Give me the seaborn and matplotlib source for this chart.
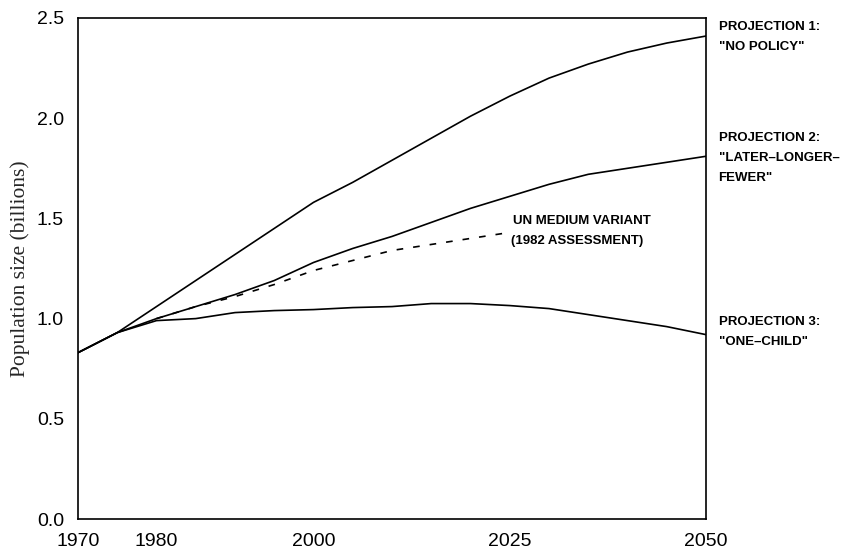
import matplotlib
matplotlib.use("Agg")
import matplotlib.pyplot as plt
import seaborn as sns
import pandas as pd

years = [1970, 1975, 1980, 1985, 1990, 1995, 2000, 2005, 2010, 2015, 2020,
         2025, 2030, 2035, 2040, 2045, 2050]
proj1_no_policy = [0.83, 0.93, 1.06, 1.19, 1.32, 1.45, 1.58, 1.68, 1.79, 1.90,
                   2.01, 2.11, 2.20, 2.27, 2.33, 2.375, 2.41]
proj2_later_longer_fewer = [0.83, 0.93, 1.00, 1.06, 1.12, 1.19, 1.28, 1.35, 1.41,
                            1.48, 1.55, 1.61, 1.67, 1.72, 1.75, 1.78, 1.81]
proj3_one_child = [0.83, 0.93, 0.99, 1.00, 1.03, 1.04, 1.045, 1.055, 1.06, 1.075,
                   1.075, 1.065, 1.05, 1.02, 0.99, 0.96, 0.92]
un_years = [1980, 1985, 1990, 1995, 2000, 2005, 2010, 2015, 2020, 2025]
un_medium = [1.00, 1.06, 1.11, 1.17, 1.24, 1.29, 1.34, 1.37, 1.40, 1.43]

x_ticks = [1970, 1980, 2000, 2025, 2050]
y_ticks = [0.0, 0.5, 1.0, 1.5, 2.0, 2.5]

sns.set_style("white")
plt.rcParams["font.family"] = ["Liberation Sans", "DejaVu Sans"]

df = pd.DataFrame({
    "year": years * 3,
    "pop": proj1_no_policy + proj2_later_longer_fewer + proj3_one_child,
    "series": ["p1"] * len(years) + ["p2"] * len(years) + ["p3"] * len(years),
})
df_un = pd.DataFrame({"year": un_years, "pop": un_medium})

fig = plt.figure(figsize=(8.45, 5.5), dpi=100)
ax = fig.add_axes([78 / 845, 1 - 519 / 550, (706 - 78) / 845, (519 - 18) / 550])

sns.lineplot(data=df, x="year", y="pop", units="series", estimator=None,
             color="black", linewidth=1.2, ax=ax)
sns.lineplot(data=df_un, x="year", y="pop", color="black", linewidth=1.2,
             dashes=False, ax=ax, linestyle=(0, (4, 6)))

ax.set_xlim(1970, 2050)
ax.set_ylim(0, 2.5)
ax.set_xticks(x_ticks)
ax.set_xticklabels([str(v) for v in x_ticks])
ax.set_yticks(y_ticks)
ax.set_yticklabels([f"{v:.1f}" for v in y_ticks])
ax.tick_params(axis="x", direction="in", length=11, width=1.1, pad=10,
               labelsize=14, colors="black")
ax.tick_params(axis="y", direction="in", length=8, width=1.1, pad=10,
               labelsize=14, colors="black")
for s in ax.spines.values():
    s.set_visible(True)
    s.set_color("black")
    s.set_linewidth(1.2)
ax.set_xlabel("")
ax.set_ylabel("Population size (billions)", family=["Liberation Serif"],
              fontsize=15.5, labelpad=5)

tkw = dict(fontsize=9.5, fontweight="bold", va="center", ha="left",
           clip_on=False, color="black")
ax.text(2051.6, 2.455, "PROJECTION 1:", **tkw)
ax.text(2051.6, 2.355, '"NO POLICY"', **tkw)
ax.text(2051.6, 1.90, "PROJECTION 2:", **tkw)
ax.text(2051.6, 1.80, '"LATER\u2013LONGER\u2013', **tkw)
ax.text(2051.6, 1.70, 'FEWER"', **tkw)
ax.text(2051.6, 0.983, "PROJECTION 3:", **tkw)
ax.text(2051.6, 0.883, '"ONE\u2013CHILD"', **tkw)
ax.text(2025.4, 1.487, "UN MEDIUM VARIANT", **tkw)
ax.text(2025.2, 1.387, "(1982 ASSESSMENT)", **tkw)

fig.savefig("out.png", dpi=100)
